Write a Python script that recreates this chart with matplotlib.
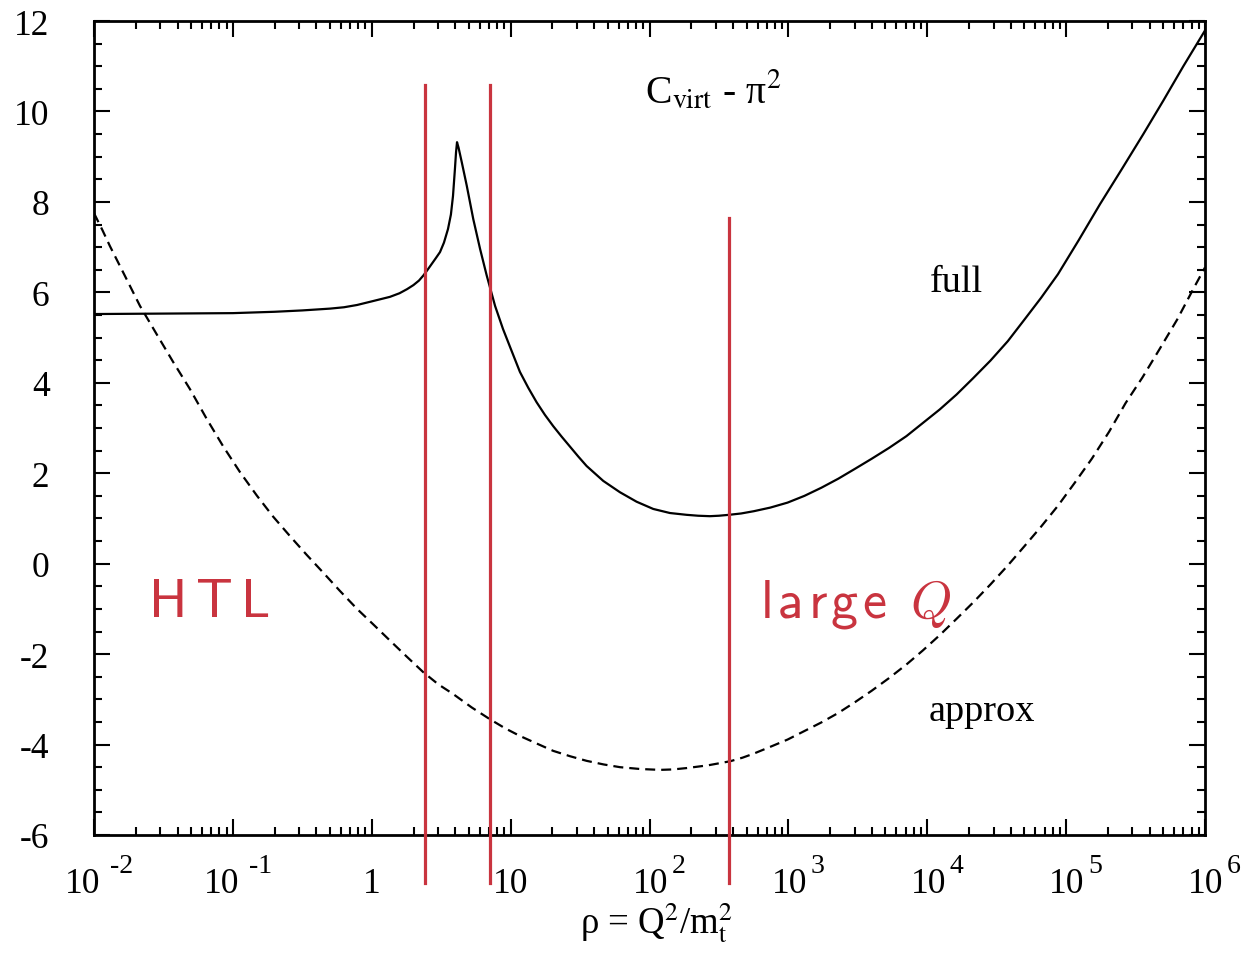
import numpy as np
import matplotlib
matplotlib.use("Agg")
import matplotlib.pyplot as plt
from matplotlib.ticker import FixedLocator, NullFormatter, LogLocator
from matplotlib.transforms import offset_copy

plt.rcParams['font.family'] = ['Liberation Serif', 'DejaVu Serif']
plt.rcParams['mathtext.fontset'] = 'stix'
plt.rcParams['axes.unicode_minus'] = False

# ---- data (x given as log10 rho) ----
log_rho_full = [-2.0, -1.5, -1.0, -0.7, -0.5, -0.3, -0.2, -0.106, 0.0, 0.131,
                0.2, 0.254, 0.3, 0.34, 0.371, 0.40, 0.43, 0.46, 0.4915, 0.52,
                0.549, 0.57, 0.585, 0.599, 0.607, 0.614, 0.625, 0.648, 0.684, 0.731,
                0.78, 0.828, 0.888, 0.945, 1.0, 1.067, 1.127, 1.187, 1.247, 1.307,
                1.367, 1.427, 1.487, 1.547, 1.667, 1.787, 1.907, 2.027, 2.147, 2.267,
                2.35, 2.435, 2.50, 2.572, 2.66, 2.751, 2.87, 2.994, 3.116, 3.238,
                3.36, 3.481, 3.60, 3.725, 3.85, 3.968, 4.09, 4.211, 4.33, 4.455,
                4.58, 4.698, 4.82, 4.941, 5.09, 5.244, 5.40, 5.556, 5.70, 5.844, 6.0]
c_full = [5.52, 5.53, 5.54, 5.57, 5.60, 5.64, 5.67, 5.72, 5.80, 5.90,
          5.98, 6.07, 6.16, 6.26, 6.37, 6.49, 6.62, 6.75, 6.89, 7.10,
          7.40, 7.72, 8.13, 8.73, 9.10, 9.32, 9.20, 8.88, 8.36, 7.62,
          6.96, 6.37, 5.70, 5.19, 4.76, 4.24, 3.89, 3.57, 3.29, 3.04,
          2.81, 2.59, 2.37, 2.16, 1.83, 1.58, 1.37, 1.21, 1.12, 1.08,
          1.06, 1.05, 1.06, 1.08, 1.11, 1.16, 1.24, 1.35, 1.50, 1.68,
          1.88, 2.10, 2.32, 2.56, 2.82, 3.11, 3.41, 3.74, 4.10, 4.49,
          4.92, 5.39, 5.88, 6.40, 7.15, 7.95, 8.72, 9.50, 10.24, 11.00, 11.79]

log_rho_approx = [-2.0, -1.94, -1.885, -1.78, -1.669, -1.55, -1.43, -1.309, -1.19, -1.071,
                  -0.95, -0.826, -0.71, -0.589, -0.47, -0.349, -0.23, -0.106, 0.01, 0.131,
                  0.25, 0.371, 0.48, 0.585, 0.72, 0.851, 0.96, 1.067, 1.19, 1.307,
                  1.43, 1.547, 1.67, 1.787, 1.93, 2.075, 2.17, 2.267, 2.42, 2.58,
                  2.67, 2.751, 2.87, 2.994, 3.116, 3.238, 3.36, 3.481, 3.60, 3.725,
                  3.85, 3.968, 4.09, 4.211, 4.33, 4.455, 4.58, 4.698, 4.82, 4.941,
                  5.06, 5.185, 5.31, 5.428, 5.55, 5.672, 5.80, 5.92, 6.0]
c_approx = [7.75, 7.38, 7.02, 6.38, 5.70, 5.08, 4.46, 3.86, 3.21, 2.60,
            2.03, 1.50, 1.04, 0.61, 0.20, -0.20, -0.60, -1.00, -1.34, -1.70,
            -2.05, -2.40, -2.67, -2.88, -3.18, -3.44, -3.64, -3.81, -3.98, -4.14,
            -4.26, -4.36, -4.44, -4.50, -4.54, -4.56, -4.55, -4.52, -4.46, -4.37,
            -4.29, -4.20, -4.05, -3.89, -3.70, -3.51, -3.30, -3.06, -2.81, -2.53,
            -2.23, -1.92, -1.58, -1.22, -0.86, -0.46, -0.04, 0.38, 0.82, 1.28,
            1.78, 2.32, 2.92, 3.55, 4.12, 4.74, 5.40, 6.10, 6.55]

boundaries = [2.42, 7.1, 374.0]
boundary_tops = [10.58, 10.58, 7.64]
boundary_bottom = -7.07

x_tick_exponents = [-2, -1, 0, 1, 2, 3, 4, 5, 6]
y_ticks = [-6, -4, -2, 0, 2, 4, 6, 8, 10, 12]

RED = '#c9343f'
W, H = 1246, 954
AX_L, AX_B, AX_W, AX_H = 94, 118, 1111, 814   # axes box in pixels

fig = plt.figure(figsize=(W / 100, H / 100), dpi=100)
ax = fig.add_axes([AX_L / W, AX_B / H, AX_W / W, AX_H / H])


def fx(px):   # pixel column -> axes fraction
    return (px - AX_L) / AX_W


def fy(py):   # pixel row (from top) -> axes fraction
    return (H - AX_B - py) / AX_H


rho_full = 10.0 ** np.array(log_rho_full)
rho_approx = 10.0 ** np.array(log_rho_approx)
ax.plot(rho_full, c_full, color='black', lw=1.6, solid_joinstyle='round')
ax.plot(rho_approx, c_approx, color='black', lw=1.6, linestyle=(0, (4.5, 2.7)))

ax.set_xscale('log')
ax.set_xlim(1e-2, 1e6)
ax.set_ylim(-6, 12)

# red region boundaries (extend below the frame)
for xb, top in zip(boundaries, boundary_tops):
    ax.plot([xb, xb], [boundary_bottom, top], color=RED, lw=2.3, clip_on=False, zorder=3)

for s in ax.spines.values():
    s.set_linewidth(2.0)

ax.tick_params(which='both', direction='in', top=True, right=True, width=1.5, color='black')
ax.tick_params(which='major', length=11.5)
ax.tick_params(which='minor', length=5.8)
ax.xaxis.set_major_locator(FixedLocator(10.0 ** np.array(x_tick_exponents)))
ax.xaxis.set_minor_locator(LogLocator(base=10, subs=np.arange(2, 10), numticks=100))
ax.xaxis.set_major_formatter(NullFormatter())
ax.xaxis.set_minor_formatter(NullFormatter())
ax.set_yticks(y_ticks)
ax.set_yticks(np.arange(-6, 12.01, 0.5), minor=True)
ax.set_yticklabels([str(v) for v in y_ticks], fontsize=25.5)
ax.tick_params(axis='y', which='major', pad=32)

# x tick labels: "10" with a separate raised exponent
xtr = ax.get_xaxis_transform()
base_y = fy(893)
exp_y = fy(873)
for e in x_tick_exponents:
    xv = 10.0 ** e
    if e == 0:
        ax.text(xv, base_y, '1', transform=xtr, ha='center', va='baseline', fontsize=25.5)
    elif e == 1:
        ax.text(xv, base_y, '10', transform=xtr, ha='center', va='baseline', fontsize=25.5)
    else:
        dx10, dxe = (-11.5, 16) if e < 0 else (1, 22)
        ax.text(xv, base_y, '10', transform=offset_copy(xtr, fig=fig, x=dx10, y=0, units='dots'),
                ha='center', va='baseline', fontsize=25.5)
        ax.text(xv, exp_y, str(e), transform=offset_copy(xtr, fig=fig, x=dxe, y=0, units='dots'),
                ha='left', va='baseline', fontsize=20)

# axis label
ax.text(fx(656), fy(933), r'ρ = Q$^2$/m$_\mathrm{t}^2$',
        transform=ax.transAxes, ha='center', va='baseline', fontsize=26.5)

# title inside plot
ax.text(fx(713), fy(103), r'C$_\mathrm{virt}$ - π$^2$',
        transform=ax.transAxes, ha='center', va='baseline', fontsize=28.5)

ax.text(fx(930), fy(292), 'full', transform=ax.transAxes,
        ha='left', va='baseline', fontsize=27.5)
ax.text(fx(929), fy(721), 'approx', transform=ax.transAxes,
        ha='left', va='baseline', fontsize=27.5)

# red region labels, drawn letter by letter with the wide tracking of the reference
renderer = fig.canvas.get_renderer()


def tracked_text(s, left_px, target_w, base_px, **kw):
    arts, widths = [], []
    for ch in s:
        t = ax.text(fx(left_px), fy(base_px), ch, transform=ax.transAxes,
                    ha='left', va='baseline', **kw)
        arts.append(t)
        widths.append(t.get_window_extent(renderer).width)
    track = (target_w - sum(widths)) / max(len(s) - 1, 1)
    dx = 0.0
    for t, w in zip(arts, widths):
        t.set_transform(offset_copy(ax.transAxes, fig=fig, x=dx, y=0, units='dots'))
        dx += w + track


sans = dict(fontsize=39, color=RED, family=['cmss10', 'DejaVu Sans'])
tracked_text('HTL', 149, 121, 617, **sans)
tracked_text('large', 761, 125, 618, **sans)
ax.text(fx(910), fy(618), r'$Q$', transform=ax.transAxes,
        ha='left', va='baseline', fontsize=38, color=RED, math_fontfamily='cm')

fig.savefig('out.png', dpi=100)
